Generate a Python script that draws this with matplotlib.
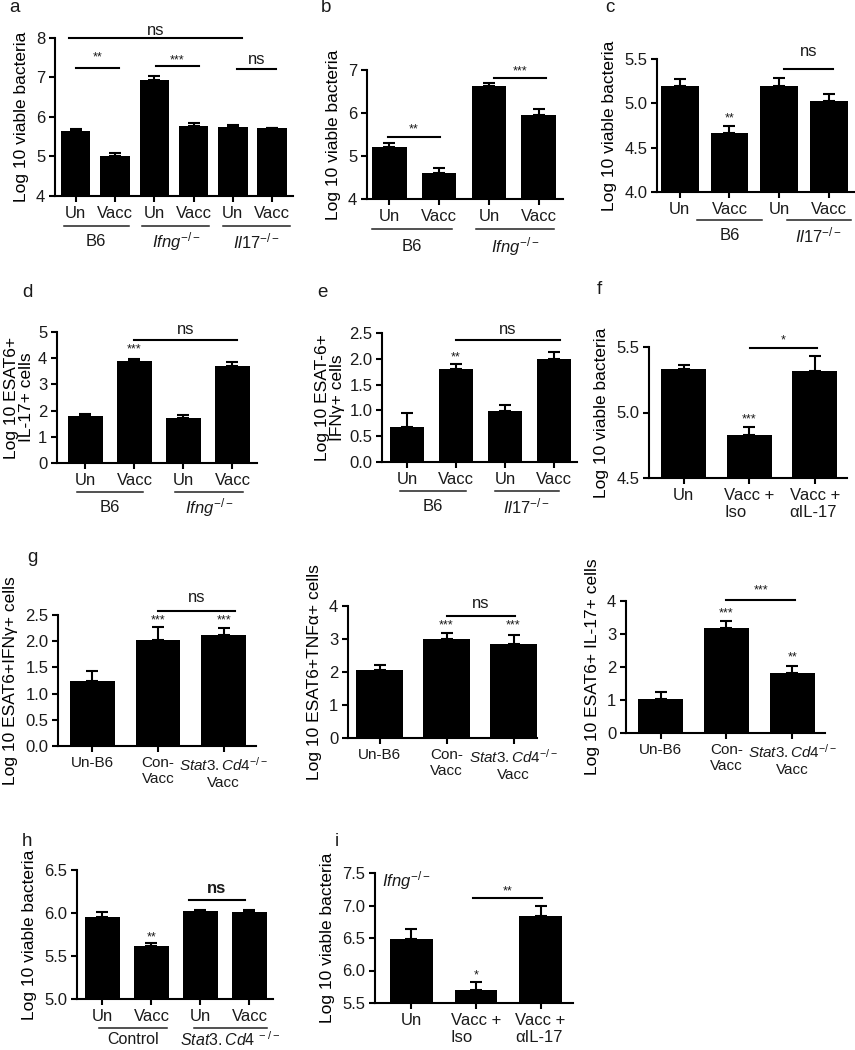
import numpy as np
import matplotlib.pyplot as plt

plt.rcParams['font.family'] = ['Liberation Sans', 'DejaVu Sans']
plt.rcParams['mathtext.fontset'] = 'custom'
plt.rcParams['mathtext.rm'] = 'Liberation Sans'
plt.rcParams['mathtext.it'] = 'Liberation Sans:italic'
plt.rcParams['text.color'] = '#1a1a1a'

W, H = 855, 1050
FS = 12

# a: lung bacteria, B6 / Ifng-/- / Il17-/-
a_ticks = ['Un', 'Vacc', 'Un', 'Vacc', 'Un', 'Vacc']
a_mean = [5.64, 5.02, 6.94, 5.78, 5.74, 5.71]
a_err = [0.06, 0.08, 0.09, 0.07, 0.07, 0.0]
a_groups = ['B6', r'$\mathit{Ifng}^{-/-}$', r'$\mathit{Il17}^{-/-}$']

# b: B6 / Ifng-/-
b_ticks = ['Un', 'Vacc', 'Un', 'Vacc']
b_mean = [5.21, 4.60, 6.63, 5.96]
b_err = [0.10, 0.12, 0.06, 0.13]
b_groups = ['B6', r'$\mathit{Ifng}^{-/-}$']

# c: B6 / Il17-/-
c_ticks = ['Un', 'Vacc', 'Un', 'Vacc']
c_mean = [5.20, 4.67, 5.19, 5.03]
c_err = [0.07, 0.07, 0.10, 0.08]
c_groups = ['B6', r'$\mathit{Il17}^{-/-}$']

# d: ESAT6+ IL-17+ cells
d_ticks = ['Un', 'Vacc', 'Un', 'Vacc']
d_mean = [1.79, 3.88, 1.70, 3.70]
d_err = [0.09, 0.08, 0.12, 0.14]
d_groups = ['B6', r'$\mathit{Ifng}^{-/-}$']

# e: ESAT-6+ IFNg+ cells
e_ticks = ['Un', 'Vacc', 'Un', 'Vacc']
e_mean = [0.68, 1.81, 0.99, 1.99]
e_err = [0.27, 0.09, 0.12, 0.15]
e_groups = ['B6', r'$\mathit{Il17}^{-/-}$']

# f: anti IL-17 treatment
f_ticks = ['Un', 'Vacc +\nIso', 'Vacc +\nαIL-17']
f_mean = [5.33, 4.83, 5.32]
f_err = [0.03, 0.06, 0.11]

# g: Stat3.Cd4-/- cytokine responses
g_ticks = ['Un-B6', 'Con-\nVacc', '$\\mathit{Stat3.Cd4}^{-/-}$\nVacc']
g1_mean = [1.24, 2.03, 2.12]
g1_err = [0.19, 0.24, 0.14]
g2_mean = [2.05, 3.01, 2.85]
g2_err = [0.17, 0.17, 0.28]
g3_mean = [1.04, 3.19, 1.83]
g3_err = [0.19, 0.19, 0.21]

# h: Control / Stat3.Cd4-/-
h_ticks = ['Un', 'Vacc', 'Un', 'Vacc']
h_mean = [5.95, 5.62, 6.02, 6.01]
h_err = [0.06, 0.03, 0.02, 0.02]
h_groups = ['Control', r'$\mathit{Stat3.Cd4}^{\ -/-}$']

# i: Ifng-/- with anti IL-17
i_ticks = ['Un', 'Vacc +\nIso', 'Vacc +\nαIL-17']
i_mean = [6.49, 5.70, 6.84]
i_err = [0.15, 0.12, 0.16]

fig = plt.figure(figsize=(W / 100, H / 100), dpi=100)


def make_ax(l, r, t, b):
    return fig.add_axes([l / W, 1 - b / H, (r - l) / W, (b - t) / H])


def bars(ax, mean, err, ticks, width, xlim, ylim, yticks, ylabel, fmt='{:g}', tick_fs=FS, pad=5):
    x = np.arange(len(mean))
    ax.bar(x, mean, width, color='black', zorder=2)
    ax.errorbar(x, mean, yerr=[np.zeros(len(err)), err], fmt='none', ecolor='black',
                elinewidth=1.5, capsize=4.5, capthick=1.5, zorder=1)
    ax.set_xlim(*xlim)
    ax.set_ylim(*ylim)
    ax.set_xticks(x)
    ax.set_xticklabels(ticks, fontsize=tick_fs)
    ax.set_yticks(yticks)
    ax.set_yticklabels([fmt.format(v) for v in yticks])
    ax.set_ylabel(ylabel, fontsize=12.5, labelpad=pad, linespacing=1.0)
    for s in ['top', 'right']:
        ax.spines[s].set_visible(False)
    for s in ['left', 'bottom']:
        ax.spines[s].set_linewidth(1.5)
    ax.tick_params(direction='out', length=4, width=1.5, labelcolor='#1a1a1a', pad=3)
    ax.tick_params(axis='y', labelsize=FS)


def bracket(ax, x1, x2, y, text, ty, size=FS, weight='normal'):
    ax.plot([x1, x2], [y, y], color='black', lw=1.5, clip_on=False)
    ax.text((x1 + x2) / 2, ty, text, ha='center', va='center', fontsize=size, fontweight=weight)


def stars(ax, x, y, text):
    ax.text(x, y, text, ha='center', va='center', fontsize=9)


def group(ax, x1, x2, y_line, y_text, label, size=FS):
    tr = ax.get_xaxis_transform()
    ax.plot([x1, x2], [y_line, y_line], color='#222222', lw=1.1, transform=tr, clip_on=False)
    ax.text((x1 + x2) / 2, y_text, label, transform=tr, ha='center', va='center', fontsize=size)


VB = 'Log 10 viable bacteria'

# a
ax = make_ax(55, 293, 38, 196)
bars(ax, a_mean, a_err, a_ticks, 0.75, (-0.525, 5.53), (4, 8), [4, 5, 6, 7, 8], VB)
bracket(ax, -0.16, 4.22, 8.0, 'ns', 8.18)
bracket(ax, 0.0, 1.1, 7.24, '**', 7.5, size=9)
bracket(ax, 2.04, 3.14, 7.30, '***', 7.42, size=9)
bracket(ax, 4.11, 5.11, 7.22, 'ns', 7.45)
for (x1, x2), lab in zip([(-0.3, 1.35), (1.7, 3.4), (3.75, 5.45)], a_groups):
    group(ax, x1, x2, -0.19, -0.29, lab)

# b
ax = make_ax(367, 563, 70, 199)
bars(ax, b_mean, b_err, b_ticks, 0.69, (-0.45, 3.49), (4, 7), [4, 5, 6, 7], VB)
bracket(ax, -0.03, 1.02, 5.45, '**', 5.62, size=9)
bracket(ax, 2.1, 3.15, 6.81, '***', 6.97, size=9)
for (x1, x2), lab in zip([(-0.35, 1.25), (1.75, 3.3)], b_groups):
    group(ax, x1, x2, -0.233, -0.372, lab)

# c
ax = make_ax(657, 855, 59, 192)
bars(ax, c_mean, c_err, c_ticks, 0.76, (-0.46, 3.53), (4, 5.5), [4.0, 4.5, 5.0, 5.5], VB, fmt='{:.1f}')
stars(ax, 1, 4.83, '**')
bracket(ax, 2.1, 3.08, 5.39, 'ns', 5.59)
for (x1, x2), lab in zip([(0.35, 1.65), (2.15, 3.45)], c_groups):
    group(ax, x1, x2, -0.21, -0.33, lab)

# d
ax = make_ax(57, 257, 332, 463)
bars(ax, d_mean, d_err, d_ticks, 0.7, (-0.58, 3.5), (0, 5), [0, 1, 2, 3, 4, 5],
     'Log 10 ESAT6+\nIL-17+ cells', pad=3)
stars(ax, 1, 4.33, '***')
bracket(ax, 1.0, 3.1, 4.68, 'ns', 5.1)
for (x1, x2), lab in zip([(-0.18, 1.18), (1.83, 3.21)], d_groups):
    group(ax, x1, x2, -0.225, -0.34, lab)

# e
ax = make_ax(382, 577, 333, 462)
bars(ax, e_mean, e_err, e_ticks, 0.68, (-0.51, 3.47), (0, 2.5), [0.0, 0.5, 1.0, 1.5, 2.0, 2.5],
     'Log 10 ESAT-6+\nIFNγ+ cells', fmt='{:.1f}', pad=3)
stars(ax, 1, 2.02, '**')
bracket(ax, 1.0, 3.13, 2.36, 'ns', 2.57)
for (x1, x2), lab in zip([(-0.15, 1.2), (1.8, 3.1)], e_groups):
    group(ax, x1, x2, -0.225, -0.345, lab)

# f
ax = make_ax(649, 847, 347, 478)
bars(ax, f_mean, f_err, f_ticks, 0.69, (-0.53, 2.49), (4.5, 5.5), [4.5, 5.0, 5.5], VB, fmt='{:.1f}')
plt.setp(ax.get_xticklabels(), multialignment='left')
stars(ax, 1, 4.95, '***')
bracket(ax, 1.01, 2.03, 5.49, '*', 5.55, size=9)

# g (three panels)
ax = make_ax(58, 256, 615, 746)
bars(ax, g1_mean, g1_err, g_ticks, 0.68, (-0.52, 2.49), (0, 2.5), [0.0, 0.5, 1.0, 1.5, 2.0, 2.5],
     'Log 10 ESAT6+IFNγ+ cells', fmt='{:.1f}', tick_fs=11)
stars(ax, 1, 2.40, '***')
stars(ax, 2, 2.40, '***')
bracket(ax, 1.0, 2.17, 2.58, 'ns', 2.83)

ax = make_ax(348, 537, 606, 738)
bars(ax, g2_mean, g2_err, g_ticks, 0.69, (-0.47, 2.35), (0, 4), [0, 1, 2, 3, 4],
     'Log 10 ESAT6+TNFα+ cells', tick_fs=11)
stars(ax, 1, 3.40, '***')
stars(ax, 2, 3.40, '***')
bracket(ax, 1.0, 2.02, 3.70, 'ns', 4.08)

ax = make_ax(626, 825, 601, 733)
bars(ax, g3_mean, g3_err, g_ticks, 0.69, (-0.53, 2.5), (0, 4), [0, 1, 2, 3, 4],
     'Log 10 ESAT6+ IL-17+ cells', tick_fs=11)
stars(ax, 1, 3.62, '***')
stars(ax, 2, 2.28, '**')
bracket(ax, 1.0, 2.05, 4.02, '***', 4.32, size=9)

# h
ax = make_ax(77, 273, 870, 999)
bars(ax, h_mean, h_err, h_ticks, 0.71, (-0.52, 3.48), (5, 6.5), [5.0, 5.5, 6.0, 6.5], VB, fmt='{:.1f}')
stars(ax, 1, 5.72, '**')
bracket(ax, 1.76, 2.9, 6.15, 'ns', 6.29, weight='bold')
for (x1, x2), lab in zip([(-0.08, 1.31), (1.86, 3.35)], h_groups):
    group(ax, x1, x2, -0.225, -0.315, lab, size=11.5)

# i
ax = make_ax(375, 573, 873, 1003)
bars(ax, i_mean, i_err, i_ticks, 0.66, (-0.56, 2.5), (5.5, 7.5), [5.5, 6.0, 6.5, 7.0, 7.5], VB, fmt='{:.1f}')
plt.setp(ax.get_xticklabels(), multialignment='left')
stars(ax, 1, 5.93, '*')
bracket(ax, 0.96, 2.02, 7.11, '**', 7.22, size=9)
ax.text(-0.45, 7.38, r'$\mathit{Ifng}^{-/-}$', ha='left', va='center', fontsize=FS)

# panel letters
for lab, px, py in [('a', 14, 8), ('b', 326, 7), ('c', 610, 8), ('d', 27, 292), ('e', 322, 293),
                    ('f', 599, 290), ('g', 32, 557), ('h', 27, 841), ('i', 337, 841)]:
    fig.text(px / W, 1 - py / H, lab, ha='center', va='center', fontsize=13.5)

fig.savefig('out.png', dpi=100)
